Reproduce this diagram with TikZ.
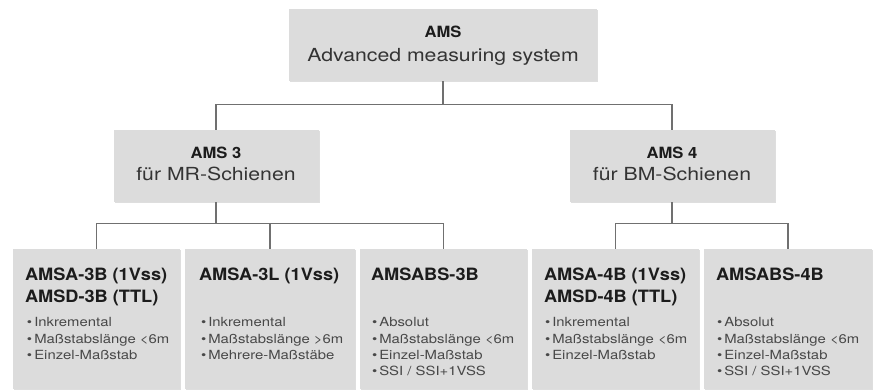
\documentclass[tikz,border=0pt]{standalone}
\usepackage{fontspec}
\setmainfont{TeX Gyre Heros}[FakeStretch=1.18]
\newfontfamily\headfont{TeX Gyre Heros}[FakeStretch=1.07]
\usetikzlibrary{positioning,shadows}

\definecolor{boxgray}{RGB}{220,220,220}
\definecolor{linegray}{RGB}{112,112,112}
\definecolor{ink}{RGB}{28,28,28}
\definecolor{subink}{RGB}{52,52,52}
\definecolor{itemink}{RGB}{72,72,72}

\tikzset{
  box/.style={fill=boxgray, inner sep=0pt,
    drop shadow={shadow xshift=1.2pt, shadow yshift=-1.2pt, fill=black, opacity=0.13}},
  topbox/.style={box, minimum width=308pt, minimum height=72pt},
  midbox/.style={box, minimum width=205pt, minimum height=72pt},
  leafbox/.style={box, minimum width=167pt, minimum height=140pt},
  link/.style={draw=linegray, line width=1.4pt},
  head/.style={anchor=base, inner sep=0pt, text=ink, font=\headfont\bfseries\fontsize{15.5}{18}\selectfont},
  subline/.style={anchor=base, inner sep=0pt, text=subink, font=\fontsize{18}{22}\selectfont},
  leaftitle/.style={anchor=base west, inner sep=0pt, text=ink, font=\headfont\bfseries\fontsize{17}{22}\selectfont},
  item/.style={anchor=base west, inner sep=0pt, text=itemink, font=\fontsize{12.6}{16}\selectfont},
}

\begin{document}
\begin{tikzpicture}[x=1pt, y=-1pt, line cap=butt]

\useasboundingbox (0,0) rectangle (877,391);

% boxes
\node[topbox] (ams) at (443,45) {};
\node[midbox] (ams3) at (216,166) {};
\node[midbox] (ams4) at (672,166) {};
\node[leafbox] (a3b) at (96.5,319) {};
\node[leafbox, minimum width=170pt] (a3l) at (270,319) {};
\node[leafbox] (abs3) at (443.5,319) {};
\node[leafbox] (a4b) at (615.5,319) {};
\node[leafbox, minimum width=168pt] (abs4) at (788,319) {};

% texts of the upper levels
\node[head] (amsT) at ([shift={(0,29)}]ams.north) {AMS};
\node[subline] (amsS) at ([shift={(0,53)}]ams.north) {Advanced measuring system};
\node[head] (ams3T) at ([shift={(0,29)}]ams3.north) {AMS 3};
\node[subline] (ams3S) at ([shift={(0,51)}]ams3.north) {für MR-Schienen};
\node[head] (ams4T) at ([shift={(0,29)}]ams4.north) {AMS 4};
\node[subline] (ams4S) at ([shift={(0,51)}]ams4.north) {für BM-Schienen};

% titles of the leaves
\node[leaftitle] (a3bT) at ([shift={(12,32)}]a3b.north west) {AMSA-3B (1Vss)};
\node[leaftitle] (a3bU) at ([shift={(12,54)}]a3b.north west) {AMSD-3B (TTL)};
\node[leaftitle] (a3lT) at ([shift={(14,32)}]a3l.north west) {AMSA-3L (1Vss)};
\node[leaftitle] (abs3T) at ([shift={(11,32)}]abs3.north west) {AMSABS-3B};
\node[leaftitle] (a4bT) at ([shift={(12,32)}]a4b.north west) {AMSA-4B (1Vss)};
\node[leaftitle] (a4bU) at ([shift={(12,54)}]a4b.north west) {AMSD-4B (TTL)};
\node[leaftitle] (abs4T) at ([shift={(12,32)}]abs4.north west) {AMSABS-4B};

% bullet lists
\foreach \t [count=\i] in {Inkremental, Maßstabslänge <6m, Einzel-Maßstab}
  \node[item] (a3bI\i) at ([shift={(14,{78+16.3*(\i-1)})}]a3b.north west) {•\,\t};
\foreach \t [count=\i] in {Inkremental, Maßstabslänge >6m, Mehrere-Maßstäbe}
  \node[item] (a3lI\i) at ([shift={(16,{78+16.3*(\i-1)})}]a3l.north west) {•\,\t};
\foreach \t [count=\i] in {Absolut, Maßstabslänge <6m, Einzel-Maßstab, {SSI / SSI+1VSS}}
  \node[item] (abs3I\i) at ([shift={(12,{78+16.3*(\i-1)})}]abs3.north west) {•\,\t};
\foreach \t [count=\i] in {Inkremental, Maßstabslänge <6m, Einzel-Maßstab}
  \node[item] (a4bI\i) at ([shift={(13,{78+16.3*(\i-1)})}]a4b.north west) {•\,\t};
\foreach \t [count=\i] in {Absolut, Maßstabslänge <6m, Einzel-Maßstab, {SSI / SSI+1VSS}}
  \node[item] (abs4I\i) at ([shift={(13,{78+16.3*(\i-1)})}]abs4.north west) {•\,\t};

% connectors
\draw[link] (ams.south) -- ++(0,23) -| (ams3.north);
\draw[link] (ams.south) -- ++(0,23) -| (ams4.north);
\foreach \leaf in {a3b, a3l, abs3}
  \draw[link] (ams3.south) -- ++(0,21) -| (\leaf.north);
\foreach \leaf in {a4b, abs4}
  \draw[link] (ams4.south) -- ++(0,21) -| (\leaf.north);

\end{tikzpicture}
\end{document}
